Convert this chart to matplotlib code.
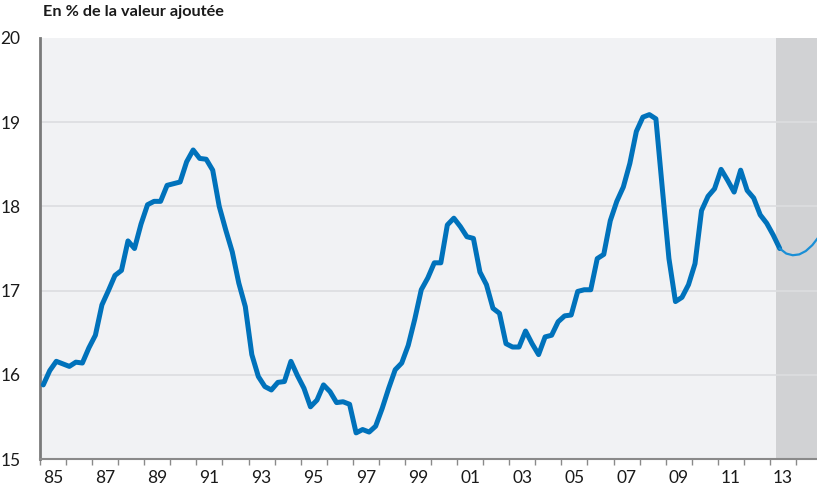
import matplotlib
matplotlib.use('Agg')
import matplotlib.pyplot as plt
import numpy as np

# 四半期データ (1985Q1 - 2013Q2)、1行 = 1年
ratio = [
    15.88, 16.05, 16.16, 16.13,  # 85
    16.10, 16.15, 16.14, 16.32,  # 86
    16.47, 16.83, 17.00, 17.18,  # 87
    17.24, 17.59, 17.50, 17.79,  # 88
    18.02, 18.06, 18.06, 18.25,  # 89
    18.27, 18.29, 18.53, 18.67,  # 90
    18.57, 18.56, 18.43, 18.00,  # 91
    17.72, 17.46, 17.09, 16.81,  # 92
    16.24, 15.98, 15.86, 15.82,  # 93
    15.91, 15.92, 16.16, 15.99,  # 94
    15.84, 15.62, 15.70, 15.88,  # 95
    15.80, 15.67, 15.68, 15.65,  # 96
    15.31, 15.35, 15.32, 15.39,  # 97
    15.60, 15.84, 16.06, 16.14,  # 98
    16.35, 16.66, 17.01, 17.15,  # 99
    17.33, 17.33, 17.78, 17.86,  # 00
    17.76, 17.64, 17.62, 17.22,  # 01
    17.07, 16.79, 16.73, 16.37,  # 02
    16.33, 16.33, 16.52, 16.37,  # 03
    16.24, 16.45, 16.47, 16.63,  # 04
    16.70, 16.71, 16.99, 17.01,  # 05
    17.01, 17.38, 17.43, 17.83,  # 06
    18.06, 18.23, 18.51, 18.89,  # 07
    19.06, 19.09, 19.04, 18.20,  # 08
    17.38, 16.87, 16.92, 17.07,  # 09
    17.32, 17.95, 18.12, 18.21,  # 10
    18.44, 18.31, 18.17, 18.43,  # 11
    18.19, 18.10, 17.90, 17.80,  # 12
    17.66, 17.50,                # 13
]
# 予測部分 (2013Q2 - 2014Q4)
forecast = [17.50, 17.44, 17.42, 17.43, 17.47, 17.54, 17.64]

start_year = 1985
forecast_start = 2013.25
tick_years = list(range(1985, 2015))
label_years = list(range(1985, 2015, 2))
y_ticks = [15, 16, 17, 18, 19, 20]
title = 'En % de la valeur ajoutée'

# 四半期の中央に点を置く
x_hist = start_year + 0.125 + 0.25 * np.arange(len(ratio))
x_fc = x_hist[-1] + 0.25 * np.arange(len(forecast))

plt.rcParams['font.family'] = ['Lato', 'DejaVu Sans']

fig = plt.figure(figsize=(8.17, 4.91), dpi=100)
ax = fig.add_axes([40 / 817, 1 - 459 / 491, 777 / 817, 421 / 491])
ax.set_facecolor('#f1f2f4')

ax.axvspan(forecast_start, 2016, color='#d1d2d4', lw=0, zorder=0)
for v in y_ticks[1:-1]:
    ax.axhline(v, color='#dcdde0', lw=1.2, zorder=1)

ax.plot(x_hist, ratio, color='#0072bb', lw=3.6, solid_joinstyle='round',
        solid_capstyle='round', zorder=3)
ax.plot(x_fc, forecast, color='#1a8fd6', lw=1.6, zorder=3)

ax.set_xlim(1985, 1985 + 777 / 26.07)
ax.set_ylim(15, 20)

ax.set_yticks(y_ticks)
ax.set_yticklabels([str(v) for v in y_ticks], fontsize=12.5, color='#1a1a1a')
ax.tick_params(axis='y', length=0, pad=14)

# 目盛り線は年の境目、ラベルは年の中央
ax.set_xticks(tick_years)
ax.set_xticklabels([])
ax.set_xticks([y + 0.5 for y in label_years], minor=True)
ax.set_xticklabels(['%02d' % (y % 100) for y in label_years], minor=True,
                   fontsize=12.5, color='#1a1a1a')
ax.tick_params(axis='x', which='major', length=4, width=1, color='#8a8a8a', direction='out')
ax.tick_params(axis='x', which='minor', length=0, pad=8)

for s in ['top', 'right']:
    ax.spines[s].set_visible(False)
ax.spines['left'].set_color('#7a7a7a')
ax.spines['left'].set_linewidth(2)
ax.spines['bottom'].set_color('#8a8a8a')
ax.spines['bottom'].set_linewidth(1.5)

fig.text(43 / 817, 1 - 12 / 491, title, fontsize=11.7, fontweight='bold',
         color='#1a1a1a', ha='left', va='center')

fig.savefig('out.png', dpi=100)
